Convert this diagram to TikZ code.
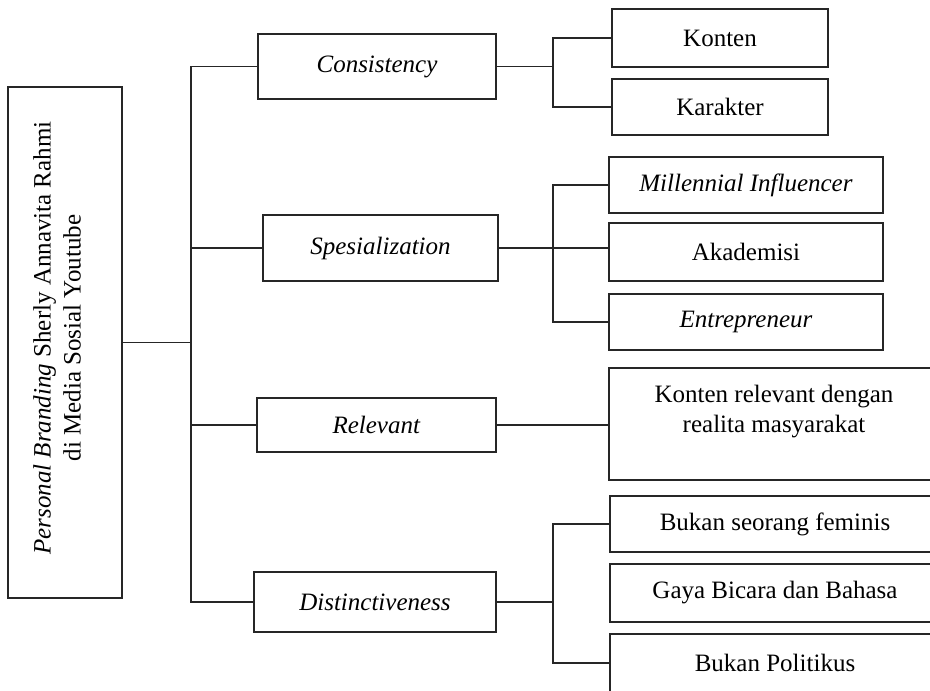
\documentclass[tikz,border=0pt]{standalone}
\usepackage{fontspec}
\setmainfont{Liberation Serif}
\usepackage{tikz}

\begin{document}
\begin{tikzpicture}[x=1pt,y=-1pt,line width=1.1pt,
    box/.style={draw=black!85,inner sep=0pt,minimum height=58pt,align=center,
      font=\fontsize{25}{30}\selectfont}]
  \useasboundingbox (0,0) rectangle (930,691);
  \clip (0,0) rectangle (930,691);
  % root
  \node[box,minimum width=114pt,minimum height=511pt] (root) at (65,342.5) {};
  \node[rotate=90,align=center,inner sep=0pt,font=\fontsize{25}{30}\selectfont] (roottext) at (57,338)
    {\textit{Personal Branding} Sherly Annavita Rahmi\\di Media Sosial Youtube};
  % first level
  \node[box,minimum width=238pt,minimum height=65pt] (cons) at (377,66.5) {\textit{Consistency}};
  \node[box,minimum width=235pt,minimum height=66pt] (spes) at (380.5,248) {\textit{Spesialization}};
  \node[box,minimum width=239pt,minimum height=54pt] (rel) at (376.5,425) {\textit{Relevant}};
  \node[box,minimum width=242pt,minimum height=60pt] (dist) at (375,602) {\textit{Distinctiveness}};
  % second level
  \node[box,minimum width=216pt] (kont) at (720,38) {Konten};
  \node[box,minimum width=216pt,minimum height=56pt] (kar) at (720,107) {Karakter};
  \node[box,minimum width=274pt,minimum height=56pt] (mill) at (746,185) {\textit{Millennial Influencer}};
  \node[box,minimum width=274pt] (akad) at (746,252) {Akademisi};
  \node[box,minimum width=274pt,minimum height=56pt] (entr) at (746,322) {\textit{Entrepreneur}};
  \node[box,minimum width=330pt,minimum height=112pt] (kon) at (774,424)
    {Konten relevant dengan\\realita masyarakat\\~};
  \node[box,minimum width=330pt,minimum height=56pt] (fem) at (775,524) {Bukan seorang feminis};
  \node[box,minimum width=330pt] (gaya) at (775,593) {Gaya Bicara dan Bahasa};
  \node[box,minimum width=330pt] (pol) at (775,663) {Bukan Politikus};
  % connectors
  \coordinate (trunk) at (191,0);
  \coordinate (fork) at (553,0);
  \draw[black!85] (root.east) -- (root.east -| trunk);
  \draw[black!85] (cons.west) -- (cons.west -| trunk) -- (dist.west -| trunk) -- (dist.west);
  \draw[black!85] (spes.west) -- (spes.west -| trunk);
  \draw[black!85] (rel.west) -- (rel.west -| trunk);
  \draw[black!85] (cons.east) -- (cons.east -| fork);
  \draw[black!85] (kont.west) -- (kont.west -| fork) -- (kar.west -| fork) -- (kar.west);
  \draw[black!85] (spes.east) -- (spes.east -| akad.west);
  \draw[black!85] (mill.west) -- (mill.west -| fork) -- (entr.west -| fork) -- (entr.west);
  \draw[black!85] (rel.east) -- (rel.east -| kon.west);
  \draw[black!85] (dist.east) -- (dist.east -| fork);
  \draw[black!85] (fem.west) -- (fem.west -| fork) -- (pol.west -| fork) -- (pol.west);
\end{tikzpicture}
\end{document}
